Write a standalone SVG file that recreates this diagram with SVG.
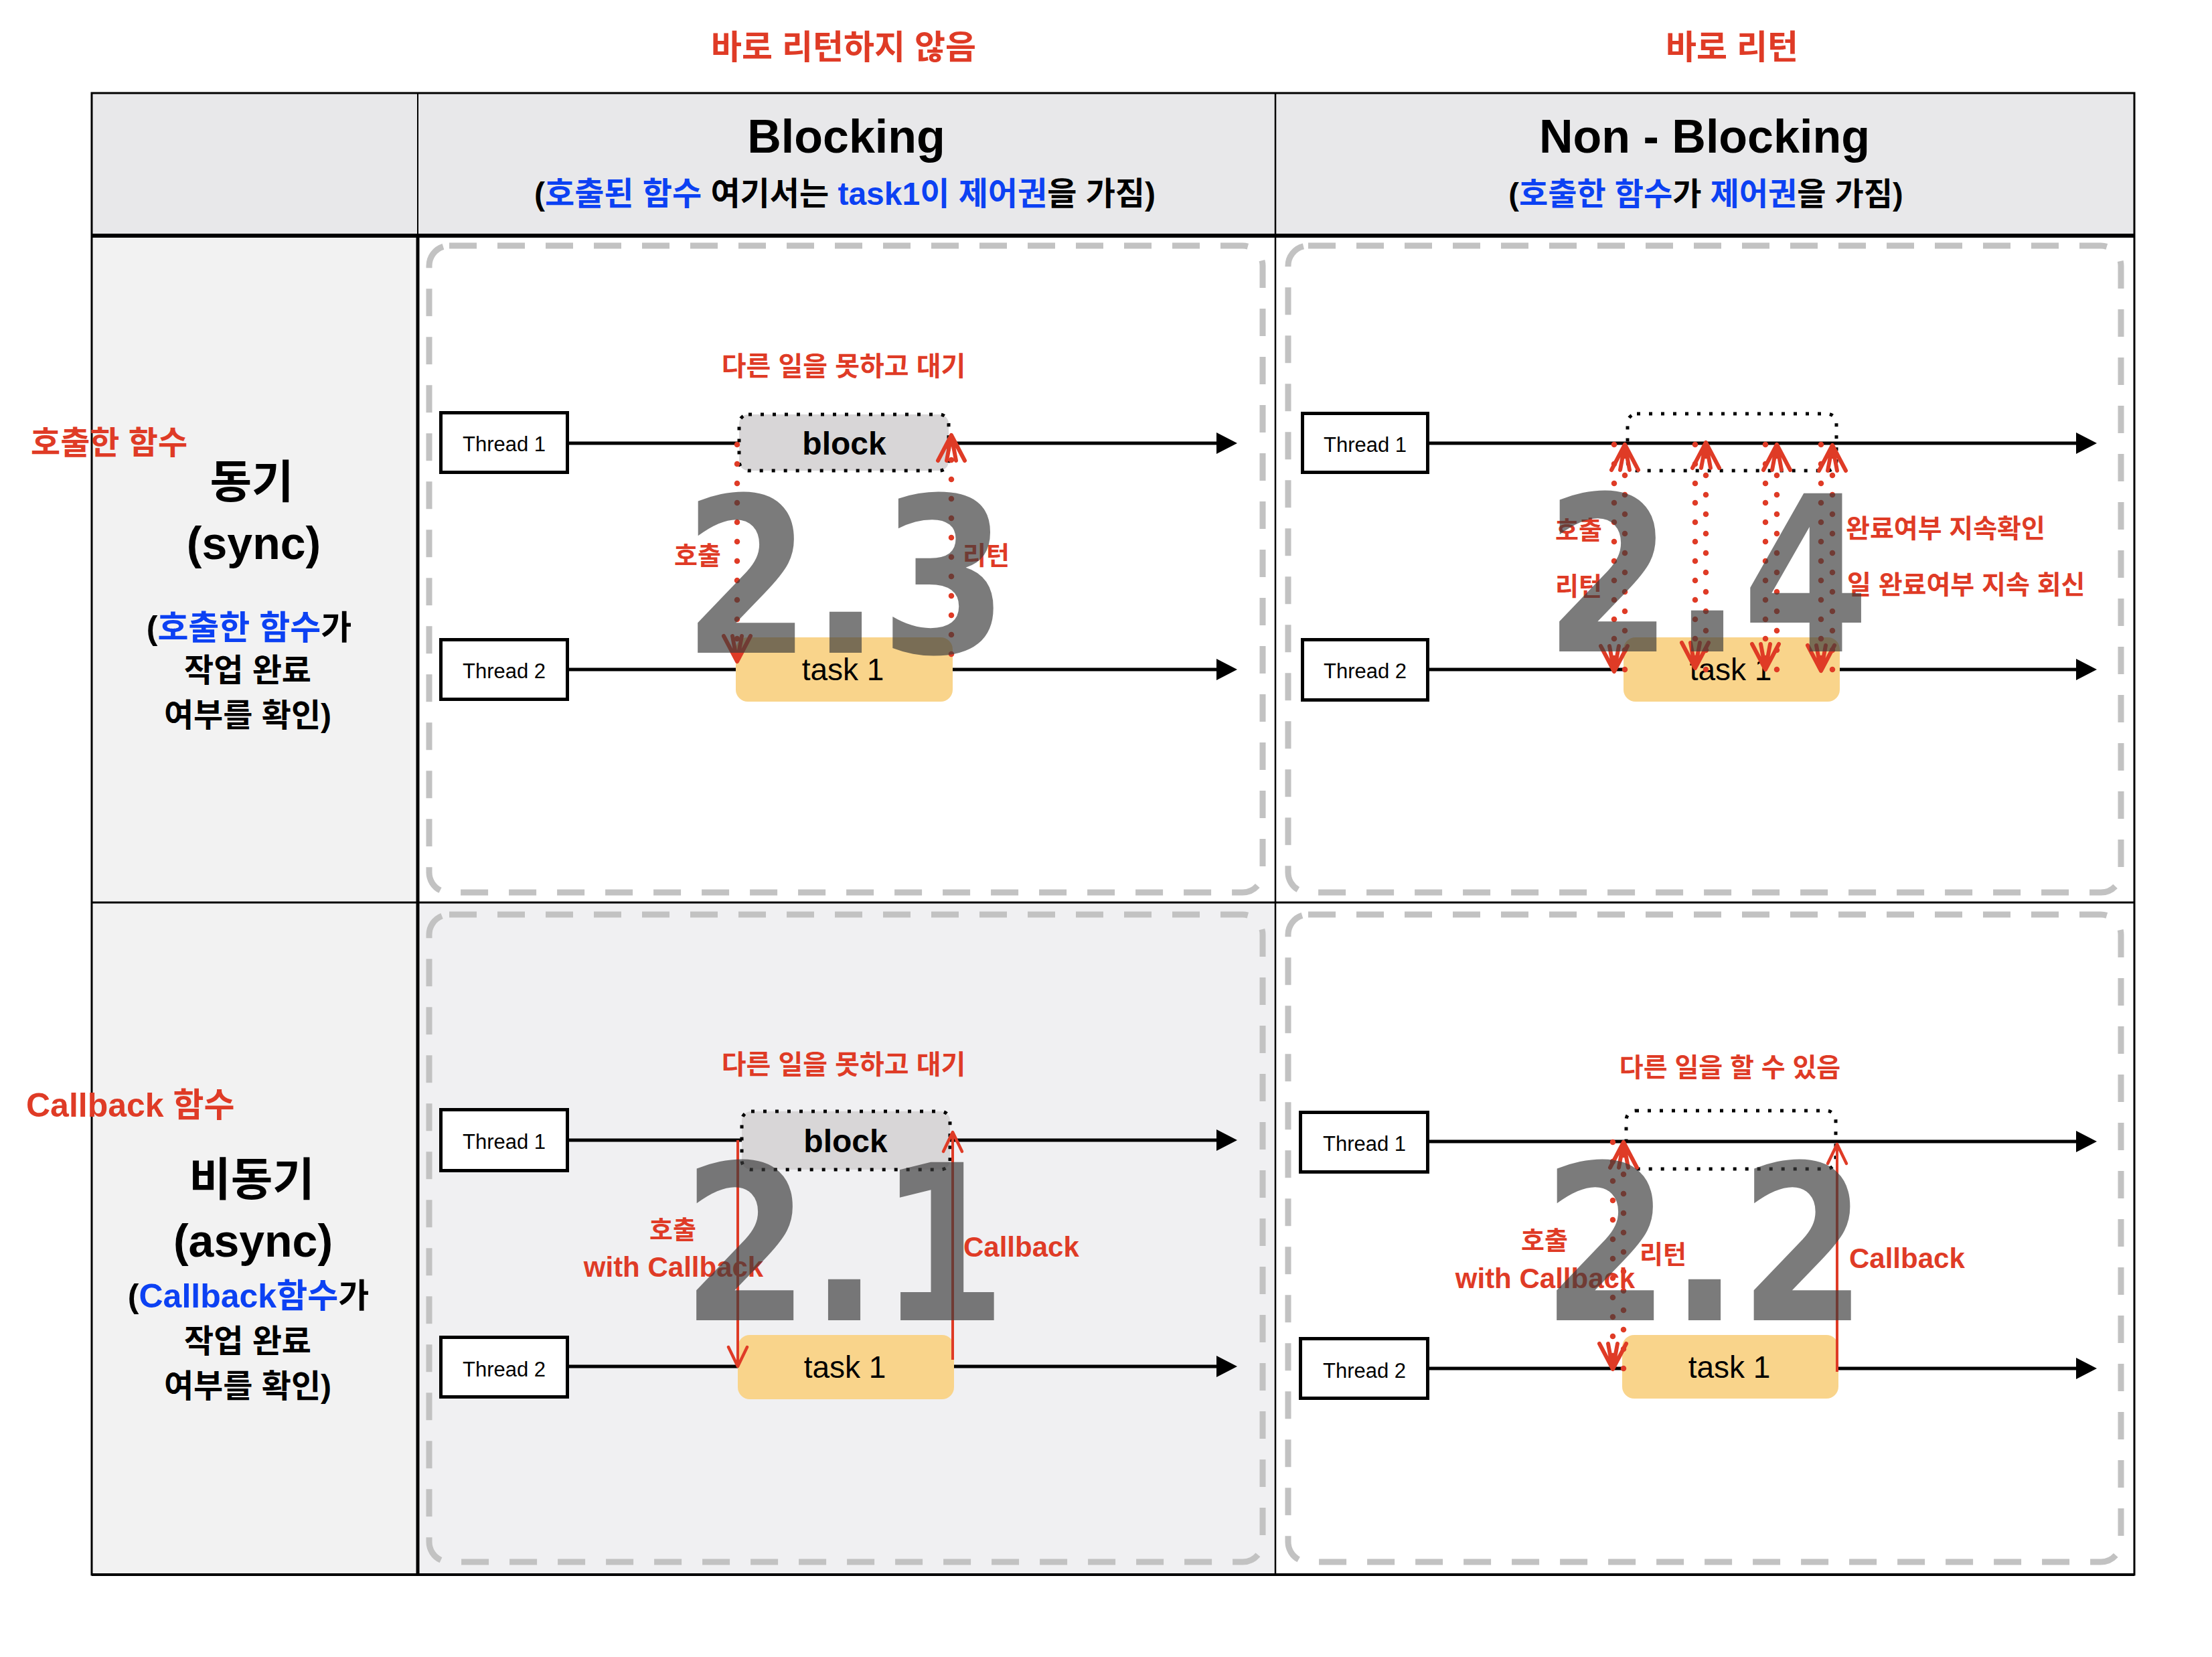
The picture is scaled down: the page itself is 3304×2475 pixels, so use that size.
<svg xmlns="http://www.w3.org/2000/svg" width="3304" height="2475" viewBox="0 0 3304 2475">
<defs>
<style>
.t{font-family:'Liberation Sans','Noto Sans CJK KR',sans-serif;font-weight:700;fill:#000}
.r{fill:#df3b26}
.bl{fill:#0c41f3}
.mid{text-anchor:middle}
.thr{font-family:'Liberation Sans',sans-serif;font-size:31px;text-anchor:middle;fill:#000}
.task{font-family:'Liberation Sans',sans-serif;font-size:46px;text-anchor:middle;fill:#000}
.blk{font-family:'Liberation Sans',sans-serif;font-size:48px;font-weight:700;text-anchor:middle;fill:#000}
.big{font-family:'DejaVu Sans',sans-serif;font-weight:700;font-size:324px;fill:#3b3b3b;opacity:.67;text-anchor:middle}
.panel{fill:none;stroke:#c2c2c2;stroke-width:9;stroke-dasharray:41 31}
.tbox{fill:#fff;stroke:#000;stroke-width:5}
.tl{stroke:#000;stroke-width:5;fill:none;marker-end:url(#tri)}
.block{fill:#d8d6d7;stroke:#000;stroke-width:5;stroke-dasharray:5 13}
.dbox{fill:none;stroke:#000;stroke-width:5;stroke-dasharray:5 13}
.task1{fill:#f9d48b}
.dot{stroke:#df3b26;stroke-width:8.5;stroke-linecap:round;stroke-dasharray:0 29;fill:none;marker-end:url(#vd)}
.sol{stroke:#df3b26;stroke-width:4;fill:none;marker-end:url(#vs)}
</style>
<marker id="tri" viewBox="-26 -17 34 34" refX="0" refY="0" markerWidth="34" markerHeight="34" markerUnits="userSpaceOnUse" orient="auto"><path d="M-25,-16 L6,0 L-25,16 Z" fill="#000"/></marker>
<marker id="vd" viewBox="-46 -26 50 52" refX="0" refY="0" markerWidth="50" markerHeight="52" markerUnits="userSpaceOnUse" orient="auto"><path d="M-38,-20 L0,0 L-38,20 M-38,-7 L0,0 L-38,7" fill="none" stroke="#df3b26" stroke-width="6" stroke-linecap="round" stroke-linejoin="round"/></marker>
<marker id="vs" viewBox="-34 -18 38 36" refX="0" refY="0" markerWidth="38" markerHeight="36" markerUnits="userSpaceOnUse" orient="auto"><path d="M-29,-14 L0,0 L-29,14" fill="none" stroke="#df3b26" stroke-width="4.5" stroke-linecap="round" stroke-linejoin="round"/></marker>
</defs>
<rect width="3304" height="2475" fill="#fff"/>

<g id="table">
<rect x="137" y="139" width="3051" height="213" fill="#e8e8ea"/>
<rect x="137" y="352" width="487" height="2000" fill="#f2f2f2"/>
<rect x="624" y="1348" width="1281" height="1004" fill="#f0f0f2"/>
<rect x="137" y="139" width="3051" height="2213" fill="none" stroke="#000" stroke-width="3"/>
<line x1="137" y1="352" x2="3188" y2="352" stroke="#000" stroke-width="6"/>
<line x1="624" y1="139" x2="624" y2="352" stroke="#000" stroke-width="2"/>
<line x1="624" y1="352" x2="624" y2="2352" stroke="#000" stroke-width="5"/>
<line x1="1905" y1="139" x2="1905" y2="2352" stroke="#000" stroke-width="2.5"/>
<line x1="137" y1="1348" x2="3188" y2="1348" stroke="#000" stroke-width="3"/>
<line x1="137" y1="2352" x2="3188" y2="2352" stroke="#000" stroke-width="4"/>
</g>

<g id="panels">
<rect class="panel" x="641" y="367" width="1245" height="966" rx="30"/>
<rect class="panel" x="1924" y="367" width="1244" height="966" rx="30"/>
<rect class="panel" x="641" y="1366" width="1245" height="967" rx="30"/>
<rect class="panel" x="1924" y="1366" width="1244" height="967" rx="30"/>
</g>

<g id="headers">
<text class="t r mid" x="1260" y="88" font-size="50">바로 리턴하지 않음</text>
<text class="t r mid" x="2587" y="88" font-size="50">바로 리턴</text>
<text class="t mid" x="1264" y="228" font-size="70">Blocking</text>
<text class="t mid" x="1262" y="306" font-size="48">(<tspan class="bl">호출된 함수</tspan> 여기서는 <tspan class="bl">task1이 제어권</tspan>을 가짐)</text>
<text class="t mid" x="2546" y="228" font-size="70">Non - Blocking</text>
<text class="t mid" x="2548" y="306" font-size="47">(<tspan class="bl">호출한 함수</tspan>가 <tspan class="bl">제어권</tspan>을 가짐)</text>
</g>

<g id="row-sync">
<text class="t r" x="46" y="678" font-size="48">호출한 함수</text>
<text class="t mid" x="376" y="744" font-size="68">동기</text>
<text class="t mid" x="379" y="835" font-size="68">(sync)</text>
<text class="t mid" x="372" y="955" font-size="50">(<tspan class="bl">호출한 함수</tspan>가</text>
<text class="t mid" x="370" y="1018" font-size="48">작업 완료</text>
<text class="t mid" x="370" y="1085" font-size="48">여부를 확인)</text>
</g>
<g id="row-async">
<text class="t r" x="39" y="1668" font-size="50">Callback 함수</text>
<text class="t mid" x="376" y="1786" font-size="68">비동기</text>
<text class="t mid" x="378" y="1877" font-size="68">(async)</text>
<text class="t mid" x="371" y="1953" font-size="50">(<tspan class="bl">Callback함수</tspan>가</text>
<text class="t mid" x="370" y="2020" font-size="48">작업 완료</text>
<text class="t mid" x="370" y="2087" font-size="48">여부를 확인)</text>
</g>

<g id="connectors-threads">
<path class="tl" d="M850,662 H1842"/>
<path class="tl" d="M850,1000 H1842"/>
<path class="tl" d="M2135,662 H3126"/>
<path class="tl" d="M2135,1000 H3126"/>
<path class="tl" d="M850,1703 H1842"/>
<path class="tl" d="M850,2041 H1842"/>
<path class="tl" d="M2135,1705 H3126"/>
<path class="tl" d="M2135,2044 H3126"/>
</g>

<g id="node-23-thread1"><rect class="tbox" x="658.5" y="616.5" width="189" height="89"/><text class="thr" x="753" y="674">Thread 1</text></g>
<g id="node-23-thread2"><rect class="tbox" x="658.5" y="955.5" width="189" height="89"/><text class="thr" x="753" y="1013">Thread 2</text></g>
<g id="node-23-block"><rect class="block" x="1104" y="619" width="313" height="84" rx="14"/><text class="blk" x="1261" y="679">block</text></g>
<g id="node-23-task"><rect class="task1" x="1099" y="952" width="324" height="96" rx="18"/><text class="task" x="1259" y="1016">task 1</text></g>

<g id="node-24-thread1"><rect class="tbox" x="1945.5" y="617.5" width="187" height="88"/><text class="thr" x="2039" y="675">Thread 1</text></g>
<g id="node-24-thread2"><rect class="tbox" x="1945.5" y="955.5" width="187" height="90"/><text class="thr" x="2039" y="1013">Thread 2</text></g>
<g id="node-24-wait"><rect class="dbox" x="2431" y="618" width="312" height="85" rx="14"/></g>
<g id="node-24-task"><rect class="task1" x="2425" y="952" width="323" height="96" rx="18"/><text class="task" x="2585" y="1016">task 1</text></g>

<g id="node-21-thread1"><rect class="tbox" x="658.5" y="1657.5" width="189" height="91"/><text class="thr" x="753" y="1716">Thread 1</text></g>
<g id="node-21-thread2"><rect class="tbox" x="658.5" y="1997.5" width="189" height="89"/><text class="thr" x="753" y="2056">Thread 2</text></g>
<g id="node-21-block"><rect class="block" x="1108" y="1660" width="311" height="87" rx="14"/><text class="blk" x="1263" y="1721">block</text></g>
<g id="node-21-task"><rect class="task1" x="1102" y="1994" width="323" height="96" rx="18"/><text class="task" x="1262" y="2058">task 1</text></g>

<g id="node-22-thread1"><rect class="tbox" x="1942.5" y="1661.5" width="190" height="89"/><text class="thr" x="2038" y="1719">Thread 1</text></g>
<g id="node-22-thread2"><rect class="tbox" x="1942.5" y="1999.5" width="190" height="89"/><text class="thr" x="2038" y="2058">Thread 2</text></g>
<g id="node-22-wait"><rect class="dbox" x="2429" y="1659" width="313" height="87" rx="14"/></g>
<g id="node-22-task"><rect class="task1" x="2423" y="1994" width="323" height="95" rx="18"/><text class="task" x="2583" y="2058">task 1</text></g>

<g id="connectors-calls">
<path class="dot" d="M1101,664 V988"/>
<path class="dot" d="M1421,977 V650"/>
<path class="dot" d="M2411,664 V1003"/>
<path class="dot" d="M2427,1000 V664"/>
<path class="dot" d="M2532,664 V998"/>
<path class="dot" d="M2548,1000 V661"/>
<path class="dot" d="M2637,664 V1000"/>
<path class="dot" d="M2654,1000 V664"/>
<path class="dot" d="M2720,664 V1002"/>
<path class="dot" d="M2737,1000 V665"/>
<path class="sol" d="M1102,1703 V2041"/>
<path class="sol" d="M1423,2031 V1691"/>
<path class="dot" d="M2409,1706 V2045"/>
<path class="dot" d="M2425,2044 V1706"/>
<path class="sol" d="M2744,2049 V1709"/>
</g>

<g id="labels">
<text class="t r mid" x="1260" y="561" font-size="40">다른 일을 못하고 대기</text>
<text class="t r mid" x="1042" y="843" font-size="38">호출</text>
<text class="t r mid" x="1473" y="843" font-size="38">리턴</text>
<text class="t r mid" x="2358" y="805" font-size="38">호출</text>
<text class="t r mid" x="2358" y="889" font-size="38">리턴</text>
<text class="t r" x="2757" y="803" font-size="39">완료여부 지속확인</text>
<text class="t r" x="2759" y="887" font-size="39">일 완료여부 지속 회신</text>
<text class="t r mid" x="1260" y="1604" font-size="40">다른 일을 못하고 대기</text>
<text class="t r mid" x="1005" y="1850" font-size="38">호출</text>
<text class="t r mid" x="1006" y="1907" font-size="42">with Callback</text>
<text class="t r" x="1439" y="1877" font-size="42">Callback</text>
<text class="t r mid" x="2584" y="1608" font-size="39">다른 일을 할 수 있음</text>
<text class="t r mid" x="2307" y="1866" font-size="38">호출</text>
<text class="t r mid" x="2308" y="1924" font-size="42">with Callback</text>
<text class="t r mid" x="2484" y="1887" font-size="38">리턴</text>
<text class="t r" x="2762" y="1894" font-size="42">Callback</text>
</g>

<g id="numbers">
<text class="big" x="1263" y="975" textLength="485" lengthAdjust="spacingAndGlyphs">2.3</text>
<text class="big" x="2550" y="973" textLength="485" lengthAdjust="spacingAndGlyphs">2.4</text>
<text class="big" x="1261" y="1972" textLength="485" lengthAdjust="spacingAndGlyphs">2.1</text>
<text class="big" x="2546" y="1972" textLength="485" lengthAdjust="spacingAndGlyphs">2.2</text>
</g>
</svg>
